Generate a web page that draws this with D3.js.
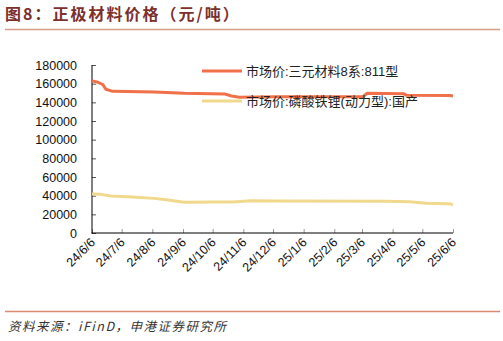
<!DOCTYPE html>
<html>
<head>
<meta charset="utf-8">
<script src="https://cdn.jsdelivr.net/npm/d3@7"></script>
<style>
  body { margin: 0; background: #fff; }
  svg { display: block; }
  text { font-family: "Liberation Sans", Arial, "Noto Sans CJK SC", sans-serif; }
</style>
</head>
<body>
<svg id="chart" width="503" height="341"></svg>
<script>
// Cathode material prices (元/吨).

const seriesNames = ['市场价:三元材料8系:811型', '市场价:磷酸铁锂(动力型):国产'];
const seriesColors = ['#f0704a', '#f0d98c'];

const nmcDates = ['2024-06-06', '2024-06-12', '2024-06-17', '2024-06-20', '2024-06-27', '2024-08-08',
  '2024-09-07', '2024-10-18', '2024-10-25', '2024-11-02', '2024-12-10', '2025-03-07', '2025-03-11',
  '2025-04-17', '2025-04-20', '2025-06-03', '2025-06-06'];
const nmcValues = [163000, 161500, 159000, 154000, 151800, 151000,
  149600, 149000, 146800, 145500, 146000, 146000, 149600,
  149300, 147500, 147300, 146800];

const lfpDates = ['2024-06-06', '2024-06-15', '2024-06-25', '2024-07-12', '2024-08-08', '2024-08-22',
  '2024-09-07', '2024-10-07', '2024-10-27', '2024-11-13', '2024-12-10', '2025-03-30', '2025-04-23',
  '2025-05-10', '2025-05-31', '2025-06-04', '2025-06-06'];
const lfpValues = [41800, 41400, 39600, 38900, 37100, 35400,
  32900, 33300, 33200, 34500, 34300, 34100, 33600,
  31800, 31400, 31000, 30000];

const yTicks = [0, 20000, 40000, 60000, 80000, 100000, 120000, 140000, 160000, 180000];
const xTickLabels = ['24/6/6', '24/7/6', '24/8/6', '24/9/6', '24/10/6', '24/11/6', '24/12/6',
  '25/1/6', '25/2/6', '25/3/6', '25/4/6', '25/5/6', '25/6/6'];

const parse = d3.timeParse('%Y-%m-%d');
const parseTick = d3.timeParse('%y/%m/%d');

const svg = d3.select('#chart');

// Title and rules
svg.append('text')
  .attr('x', 5).attr('y', 20)
  .attr('font-size', 16).attr('font-weight', 'bold')
  .attr('letter-spacing', 2)
  .attr('fill', '#7d2f2c')
  .style('font-family', '"Noto Sans CJK SC", sans-serif')
  .text('图8：正极材料价格（元/吨）');

svg.append('line')
  .attr('x1', 5).attr('x2', 500).attr('y1', 29.5).attr('y2', 29.5)
  .attr('stroke', '#d99a86').attr('stroke-width', 1.5);

svg.append('line')
  .attr('x1', 5).attr('x2', 500).attr('y1', 311.5).attr('y2', 311.5)
  .attr('stroke', '#d98a72').attr('stroke-width', 1.5);

svg.append('text')
  .attr('x', 8).attr('y', 331)
  .attr('font-size', 12.5).attr('font-style', 'italic')
  .attr('letter-spacing', 1.5)
  .attr('fill', '#333')
  .style('font-family', '"Noto Sans CJK SC", sans-serif')
  .text('资料来源：iFinD，申港证券研究所');

// Scales
const x = d3.scaleTime()
  .domain([parse('2024-06-06'), parse('2025-06-06')])
  .range([92, 453]);
const y = d3.scaleLinear()
  .domain([0, 180000])
  .range([233, 65]);

// Axes
const yAxis = svg.append('g')
  .attr('transform', 'translate(92,0)')
  .call(d3.axisRight(y).tickValues(yTicks).tickSize(4).tickFormat(''));
yAxis.select('.domain').remove();
yAxis.selectAll('.tick line').attr('stroke', '#555');

svg.selectAll('.ylabel')
  .data(yTicks)
  .join('text')
  .attr('class', 'ylabel')
  .attr('x', 77)
  .attr('y', d => y(d) + 4.5)
  .attr('text-anchor', 'end')
  .attr('font-size', 12.5)
  .attr('fill', '#111')
  .text(d => d);

const xAxis = svg.append('g')
  .attr('transform', 'translate(0,233)')
  .call(d3.axisTop(x).tickValues(xTickLabels.map(parseTick)).tickSize(4).tickFormat(''));
xAxis.select('.domain').remove();
xAxis.selectAll('.tick line').attr('stroke', '#999');

svg.selectAll('.xlabel')
  .data(xTickLabels)
  .join('text')
  .attr('class', 'xlabel')
  .attr('text-anchor', 'end')
  .attr('font-size', 12.5)
  .attr('fill', '#111')
  .attr('transform', d => `translate(${x(parseTick(d)) + 4},${243}) rotate(-45)`)
  .text(d => d);

// Axis lines
svg.append('line')
  .attr('x1', 92).attr('x2', 92).attr('y1', 65).attr('y2', 233.5)
  .attr('stroke', '#000').attr('stroke-width', 1);
svg.append('line')
  .attr('x1', 91.5).attr('x2', 453).attr('y1', 233).attr('y2', 233)
  .attr('stroke', '#000').attr('stroke-width', 1);

// Lines
const line = d3.line()
  .x(d => x(d.date))
  .y(d => y(d.value));

const series = [
  nmcDates.map((d, i) => ({ date: parse(d), value: nmcValues[i] })),
  lfpDates.map((d, i) => ({ date: parse(d), value: lfpValues[i] }))
];

series.forEach((data, i) => {
  svg.append('path')
    .datum(data)
    .attr('d', line)
    .attr('fill', 'none')
    .attr('stroke', seriesColors[i])
    .attr('stroke-width', 3)
    .attr('stroke-linejoin', 'round');
});

// Legend
seriesNames.forEach((name, i) => {
  const ly = 71 + i * 30;
  svg.append('line')
    .attr('x1', 202).attr('x2', 242).attr('y1', ly).attr('y2', ly)
    .attr('stroke', seriesColors[i]).attr('stroke-width', 3);
  svg.append('text')
    .attr('x', 246).attr('y', ly + 5)
    .attr('font-size', 13)
    .attr('fill', '#222')
    .text(name);
});
</script>
</body>
</html>
